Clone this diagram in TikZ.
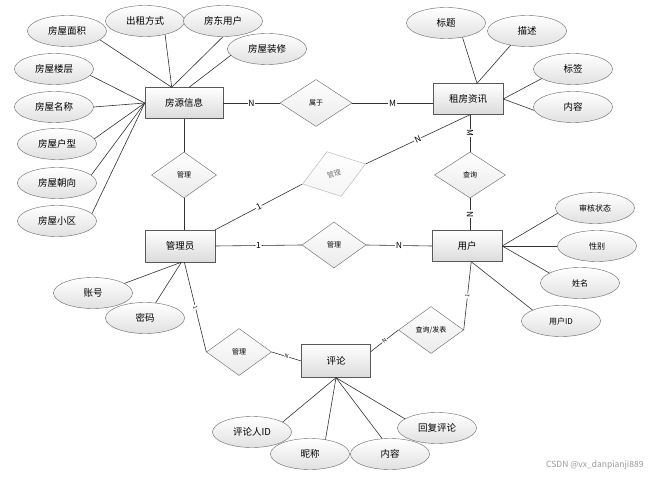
\documentclass[tikz,border=0pt]{standalone}
\usepackage{fontspec}
\setmainfont{Noto Sans CJK SC}
\usetikzlibrary{shapes.geometric}

\begin{document}
\begin{tikzpicture}[x=1pt,y=-1pt,
  entity node/.style={rectangle,draw=black!65,top color=white,bottom color=black!14,minimum width=70pt,minimum height=31pt,inner sep=0pt,font=\fontsize{9.5}{11}\selectfont},
  attr node/.style={ellipse,draw=black!60,top color=white,bottom color=black!12,minimum width=79pt,minimum height=31pt,inner sep=0pt,font=\fontsize{9.5}{11}\selectfont},
  small attr/.style={attr node,font=\fontsize{8}{9}\selectfont},
  rel node/.style={diamond,draw=black!60,top color=white,bottom color=black!8,minimum width=65pt,minimum height=47pt,inner sep=0pt,font=\fontsize{7}{8}\selectfont},
  card/.style={fill=white,inner sep=0.8pt,font=\fontsize{8.5}{9}\selectfont,sloped},
  tiny card/.style={card,font=\fontsize{5.5}{6}\selectfont},
  every edge/.style={draw=black!80,line width=0.6pt}]

\useasboundingbox[fill=white] (0,0) rectangle (655,478);

% entities
\node[entity node,minimum width=78pt] (fy) at (184,103) {房源信息};
\node[entity node] (zf) at (468,99) {租房资讯};
\node[entity node,minimum height=32pt] (gly) at (180,246) {管理员};
\node[entity node] (yh) at (467,246) {用户};
\node[entity node,minimum width=69pt,minimum height=33pt] (pl) at (336,361) {评论};

% relations
\node[rel node,minimum width=72pt] (sy) at (316,103) {属于};
\node[rel node,minimum height=46pt] (gl1) at (184,175) {管理};
\node[rel node,minimum width=66pt,rotate=17.6,draw=black!30,text=black!55,bottom color=black!4] (gl2) at (334,174) {管理};
\node[rel node,minimum width=71pt,minimum height=46pt] (cx) at (470,175) {查询};
\node[rel node,minimum width=64pt,minimum height=46pt] (gl3) at (334,245) {管理};
\node[rel node] (gl4) at (239,352) {管理};
\node[rel node] (cxfb) at (431,330) {查询/发表};

% attributes
\node[attr node] (mj) at (67,31) {房屋面积};
\node[attr node] (czfs) at (145,21) {出租方式};
\node[attr node] (fd) at (223,21) {房东用户};
\node[attr node] (zx) at (267,49) {房屋装修};
\node[attr node] (lc) at (54,69) {房屋楼层};
\node[attr node] (mc) at (54,107) {房屋名称};
\node[attr node] (hx) at (57,144) {房屋户型};
\node[attr node] (cy) at (57,183) {房屋朝向};
\node[attr node] (xq) at (57,221) {房屋小区};
\node[attr node] (bt) at (446,23) {标题};
\node[attr node] (ms) at (527,31) {描述};
\node[attr node] (bq) at (573,69) {标签};
\node[attr node] (nr1) at (573,107) {内容};
\node[small attr] (sh) at (595,208) {审核状态};
\node[small attr] (xb) at (597,246) {性别};
\node[small attr] (xm) at (580,283) {姓名};
\node[small attr] (id) at (561,321) {用户ID};
\node[attr node] (zh) at (93,293) {账号};
\node[attr node] (mm) at (145,318) {密码};
\node[attr node] (pr) at (252,432) {评论人ID};
\node[attr node] (nc) at (310,454) {昵称};
\node[attr node] (nr2) at (390,454) {内容};
\node[attr node] (hf) at (437,428) {回复评论};

\node[text=black!40,font=\fontsize{8.5}{9}\selectfont,anchor=east] (wm) at (647,465) {CSDN @vx\_danpianji889};

% attribute lines
\path[] (mj.-15) edge (fy.128);
\path[] (czfs.-34) edge (fy.128);
\path[] (fd.south) edge (fy.128);
\path[] (zx.190) edge (fy.72);
\path[] (lc.-10) edge (fy.west);
\path[] (mc.east) edge (fy.west);
\path[] (hx.8) edge (fy.west);
\path[] (cy.13) edge (fy.west);
\path[] (xq.12) edge (fy.west);

\path[] (bt.-41) edge (zf.60);
\path[] (ms.221) edge (zf.60);
\path[] (bq.197) edge (zf.east);
\path[] (nr1.185) edge (zf.east);

\path[] (sh.188) edge (yh.east);
\path[] (xb.west) edge (yh.east);
\path[] (xm.162) edge (yh.east);
\path[] (id.159) edge (yh.-75);

\path[] (zh.17) edge (gly.-85);
\path[] (mm.55) edge (gly.-85);

\path[] (pr.18) edge (pl.south);
\path[] (nc.43) edge (pl.south);
\path[] (nr2.117) edge (pl.south);
\path[] (hf.164) edge (pl.south);

% relation lines
\path[] (fy) edge node[card] {N} (sy);
\path[] (sy.east) edge node[card] {M} (sy.east -| zf.west);
\path[] (fy) edge (gl1);
\path[] (gl1) edge (gl1 |- gly.north);
\path[] (zf.south -| cx) edge node[card] {M} (cx);
\path[] (cx) edge node[card] {N} (cx |- yh.north);
\path[] (gly.north east) edge node[card] {1} (gl2.west);
\path[] (gl2.east) edge node[card] {N} (zf.south -| cx);
\path[] (gly.east) edge node[card] {1} (gl3.west);
\path[] (gl3.east) edge node[card] {N} (yh.west);
\path[] (gly.-75) edge node[tiny card] {1} (gl4.west);
\path[] (gl4.east) edge node[tiny card] {N} (pl.west);
\path[] (pl.15) edge node[tiny card] {N} (cxfb.west);
\path[] (cxfb.east) edge node[tiny card] {1} (yh.-75);

\end{tikzpicture}
\end{document}
